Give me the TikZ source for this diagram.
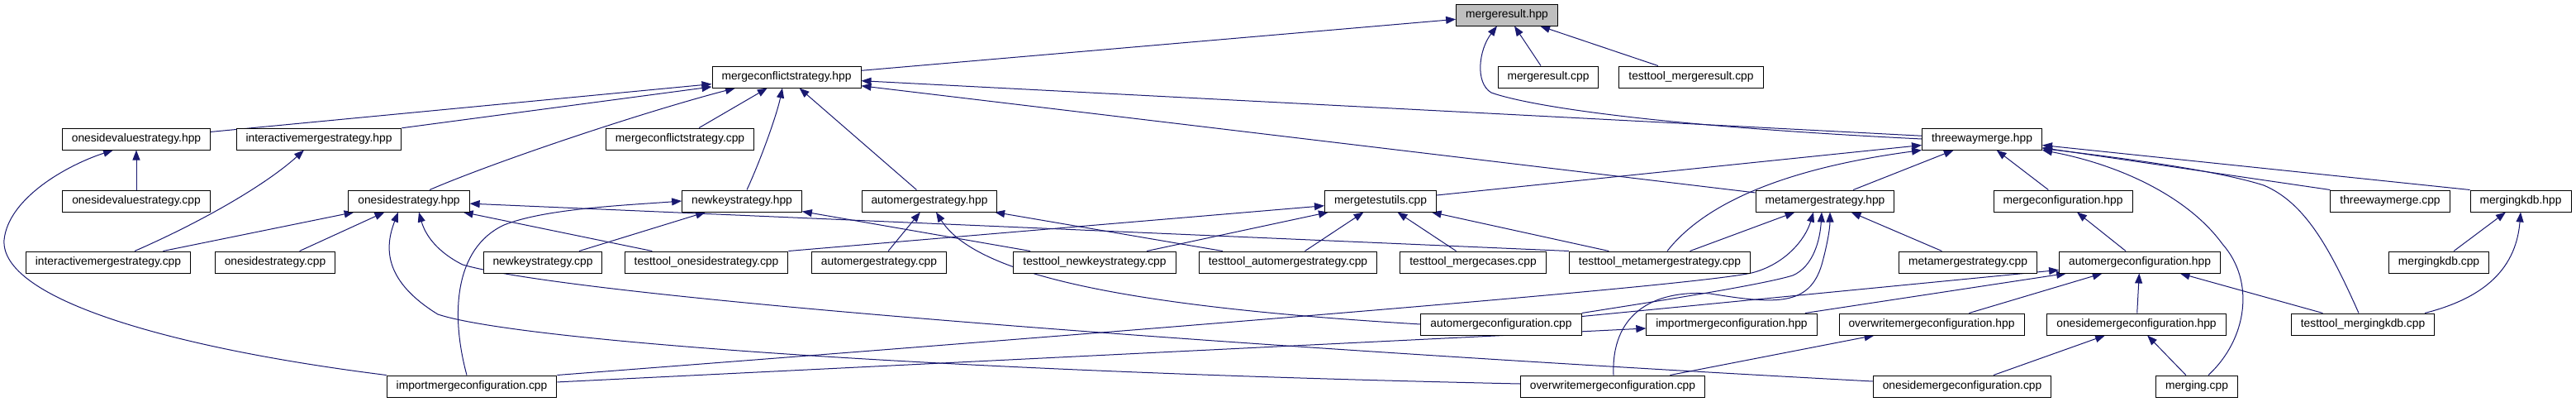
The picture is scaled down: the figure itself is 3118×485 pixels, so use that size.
\documentclass[tikz,border=0pt]{standalone}
\usepackage{fontspec}
\setmainfont{Liberation Sans}
\usepackage{xcolor}
\usepackage{tikz}
\usetikzlibrary{calc,arrows.meta,backgrounds}
\definecolor{edge}{HTML}{191970}
\definecolor{root}{HTML}{BFBFBF}

\begin{document}
\begin{tikzpicture}
    [x=1pt, y=-1pt,
     File box/.style={draw=black, line width=1pt, fill=white, minimum height=26pt,
        inner xsep=11.5pt, inner ysep=0pt, text height=10pt, text depth=3pt,
        font=\fontsize{13.8}{16}\selectfont},
     Root box/.style={File box, fill=root},
     Include/.style={->, line width=1pt, color=edge},
    >={Triangle[length=12pt, width=9pt]}
    ]
\useasboundingbox (0,0) rectangle (3118,485);

%row 0: the header itself
\node[Root box] (mergeresult_hpp) at (1824,18) {mergeresult.hpp};

%row 1
\node[File box] (mcs_hpp) at (952,93) {mergeconflictstrategy.hpp};
\node[File box] (mergeresult_cpp) at (1874,93) {mergeresult.cpp};
\node[File box] (tt_mergeresult_cpp) at (2047,93) {testtool\_mergeresult.cpp};

%row 2
\node[File box] (osv_hpp) at (165,168) {onesidevaluestrategy.hpp};
\node[File box] (ims_hpp) at (386,168) {interactivemergestrategy.hpp};
\node[File box] (mcs_cpp) at (823,168) {mergeconflictstrategy.cpp};
\node[File box] (twm_hpp) at (2399,168) {threewaymerge.hpp};

%row 3
\node[File box] (osv_cpp) at (165,243) {onesidevaluestrategy.cpp};
\node[File box] (oss_hpp) at (495,243) {onesidestrategy.hpp};
\node[File box] (nks_hpp) at (898,243) {newkeystrategy.hpp};
\node[File box] (ams_hpp) at (1125,243) {automergestrategy.hpp};
\node[File box] (mtu_cpp) at (1671,243) {mergetestutils.cpp};
\node[File box] (mms_hpp) at (2209,243) {metamergestrategy.hpp};
\node[File box] (mc_hpp) at (2497,243) {mergeconfiguration.hpp};
\node[File box] (twm_cpp) at (2893,243) {threewaymerge.cpp};
\node[File box] (mkdb_hpp) at (3051,243) {mergingkdb.hpp};

%row 4
\node[File box] (ims_cpp) at (131,317) {interactivemergestrategy.cpp};
\node[File box] (oss_cpp) at (333,317) {onesidestrategy.cpp};
\node[File box] (nks_cpp) at (657,317) {newkeystrategy.cpp};
\node[File box] (tt_oss_cpp) at (855,317) {testtool\_onesidestrategy.cpp};
\node[File box] (ams_cpp) at (1064,317) {automergestrategy.cpp};
\node[File box] (tt_nks_cpp) at (1325,317) {testtool\_newkeystrategy.cpp};
\node[File box] (tt_ams_cpp) at (1559,317) {testtool\_automergestrategy.cpp};
\node[File box] (tt_mc_cpp) at (1783,317) {testtool\_mergecases.cpp};
\node[File box] (tt_mms_cpp) at (2009,317) {testtool\_metamergestrategy.cpp};
\node[File box] (mms_cpp) at (2382,317) {metamergestrategy.cpp};
\node[File box] (amc_hpp) at (2590,317) {automergeconfiguration.hpp};
\node[File box] (mkdb_cpp) at (2952,317) {mergingkdb.cpp};

%row 5
\node[File box] (amc_cpp) at (1817,392) {automergeconfiguration.cpp};
\node[File box] (imc_hpp) at (2096,392) {importmergeconfiguration.hpp};
\node[File box] (omc_hpp) at (2338,392) {overwritemergeconfiguration.hpp};
\node[File box] (osmc_hpp) at (2586,392) {onesidemergeconfiguration.hpp};
\node[File box] (tt_mkdb_cpp) at (2860,392) {testtool\_mergingkdb.cpp};

%row 6
\node[File box] (imc_cpp) at (571,467) {importmergeconfiguration.cpp};
\node[File box] (omc_cpp) at (1952,467) {overwritemergeconfiguration.cpp};
\node[File box] (osmc_cpp) at (2375,467) {onesidemergeconfiguration.cpp};
\node[File box] (merging_cpp) at (2659,467) {merging.cpp};

\begin{scope}[on background layer]
\fill[white] (0,0) rectangle (3118,485);

%edges into mergeresult.hpp
\draw[Include] (mcs_hpp) -- (mergeresult_hpp);
\draw[Include] (mergeresult_cpp) -- (mergeresult_hpp);
\draw[Include] (tt_mergeresult_cpp) -- (mergeresult_hpp);
\draw[Include] (twm_hpp.west) .. controls (2000,152) and (1850,128) .. (1805,112)
    .. controls (1785,100) and (1790,60) .. ([xshift=-12pt]mergeresult_hpp.south);

%edges into mergeconflictstrategy.hpp
\draw[Include] (osv_hpp) -- (mcs_hpp);
\draw[Include] (ims_hpp) -- (mcs_hpp);
\draw[Include] ([xshift=25pt]oss_hpp.north) .. controls (600,195) and (780,135) .. ([xshift=-62pt]mcs_hpp.south);
\draw[Include] (mcs_cpp) -- (mcs_hpp);
\draw[Include] ([xshift=6pt]nks_hpp.north) .. controls (920,195) and (940,140) .. ([xshift=-5pt]mcs_hpp.south);
\draw[Include] (ams_hpp) -- (mcs_hpp);
\draw[Include] (twm_hpp) -- (mcs_hpp);
\draw[Include] (mms_hpp) -- (mcs_hpp);

%onesidevaluestrategy.hpp and interactivemergestrategy.hpp
\draw[Include] (osv_cpp) -- (osv_hpp);
\draw[Include] (imc_cpp.north west) .. controls (200,420) and (0,360) .. (5,290)
    .. controls (10,240) and (80,200) .. ([xshift=-28pt]osv_hpp.south);
\draw[Include] ([xshift=32pt]ims_cpp.north) .. controls (240,270) and (320,225) .. ([xshift=-18pt]ims_hpp.south);

%onesidestrategy.hpp
\draw[Include] (ims_cpp) -- (oss_hpp);
\draw[Include] (oss_cpp) -- (oss_hpp);
\draw[Include] ([yshift=3pt]omc_cpp.west) .. controls (1100,448) and (620,410) .. (530,380)
    .. controls (465,340) and (465,300) .. ([xshift=-13pt]oss_hpp.south);
\draw[Include] ([yshift=6pt]osmc_cpp.west) .. controls (1500,420) and (700,360) .. (560,320)
    .. controls (530,305) and (515,285) .. ([xshift=12pt]oss_hpp.south);
\draw[Include] (tt_oss_cpp) -- (oss_hpp);
\draw[Include] (tt_mms_cpp.north west) -- (oss_hpp);

%newkeystrategy.hpp
\draw[Include] ([xshift=-6pt]imc_cpp.north) .. controls (545,380) and (550,300) .. (610,272)
    .. controls (660,252) and (760,248) .. (nks_hpp.west);
\draw[Include] (nks_cpp) -- (nks_hpp);
\draw[Include] (tt_nks_cpp) -- (nks_hpp);

%automergestrategy.hpp
\draw[Include] (ams_cpp) -- (ams_hpp);
\draw[Include] (amc_cpp.west) .. controls (1350,370) and (1180,330) .. ([xshift=8pt]ams_hpp.south);
\draw[Include] (tt_ams_cpp) -- (ams_hpp);

%mergetestutils.cpp
\draw[Include] (tt_oss_cpp.north east) -- (mtu_cpp);
\draw[Include] (tt_nks_cpp) -- (mtu_cpp);
\draw[Include] (tt_ams_cpp) -- (mtu_cpp);
\draw[Include] (tt_mc_cpp) -- (mtu_cpp);
\draw[Include] (tt_mms_cpp) -- (mtu_cpp);

%threewaymerge.hpp
\draw[Include] (mtu_cpp) -- (twm_hpp);
\draw[Include] ([xshift=9pt]tt_mms_cpp.north) .. controls (2060,250) and (2150,205) .. (twm_hpp.south west);
\draw[Include] (mms_hpp) -- (twm_hpp);
\draw[Include] (mc_hpp) -- (twm_hpp);
\draw[Include] (twm_cpp.north west) -- (twm_hpp);
\draw[Include] (mkdb_hpp.north west) -- (twm_hpp);
\draw[Include] ([xshift=-5pt]tt_mkdb_cpp.north) .. controls (2820,300) and (2790,245) .. (2740,224)
    .. controls (2680,205) and (2560,190) .. ([yshift=2pt]twm_hpp.south east);
\draw[Include] ([xshift=14pt]merging_cpp.north) .. controls (2720,410) and (2730,340) .. (2690,295)
    .. controls (2650,240) and (2570,200) .. (twm_hpp.south east);

%metamergestrategy.hpp
\draw[Include] (tt_mms_cpp) -- (mms_hpp);
\draw[Include] (mms_cpp) -- (mms_hpp);
\draw[Include] (imc_cpp.north east) .. controls (1500,390) and (2050,345) .. (2120,330)
    .. controls (2160,320) and (2185,290) .. ([xshift=-14pt]mms_hpp.south);
\draw[Include] (amc_cpp.north east) .. controls (2000,365) and (2130,345) .. (2170,333)
    .. controls (2195,322) and (2203,290) .. ([xshift=-4pt]mms_hpp.south);
\draw[Include] ([xshift=1pt]omc_cpp.north) .. controls (1950,380) and (2000,350) .. (2070,355)
    .. controls (2150,368) and (2190,370) .. (2205,320)
    .. controls (2212,295) and (2215,275) .. ([xshift=6pt]mms_hpp.south);

%mergeconfiguration.hpp and automergeconfiguration.hpp
\draw[Include] (amc_hpp) -- (mc_hpp);
\draw[Include] (amc_cpp) -- (amc_hpp);
\draw[Include] (imc_hpp) -- (amc_hpp);
\draw[Include] (omc_hpp) -- (amc_hpp);
\draw[Include] (osmc_hpp) -- (amc_hpp);
\draw[Include] (tt_mkdb_cpp) -- (amc_hpp);

%the lower configuration headers
\draw[Include] (imc_cpp) -- (imc_hpp);
\draw[Include] (omc_cpp) -- (omc_hpp);
\draw[Include] (osmc_cpp) -- (osmc_hpp);
\draw[Include] (merging_cpp) -- (osmc_hpp);

%mergingkdb.hpp
\draw[Include] (mkdb_cpp) -- (mkdb_hpp);
\draw[Include] ([xshift=75pt]tt_mkdb_cpp.north) .. controls (3000,362) and (3045,330) .. (mkdb_hpp.south);
\end{scope}

\end{tikzpicture}
\end{document}
